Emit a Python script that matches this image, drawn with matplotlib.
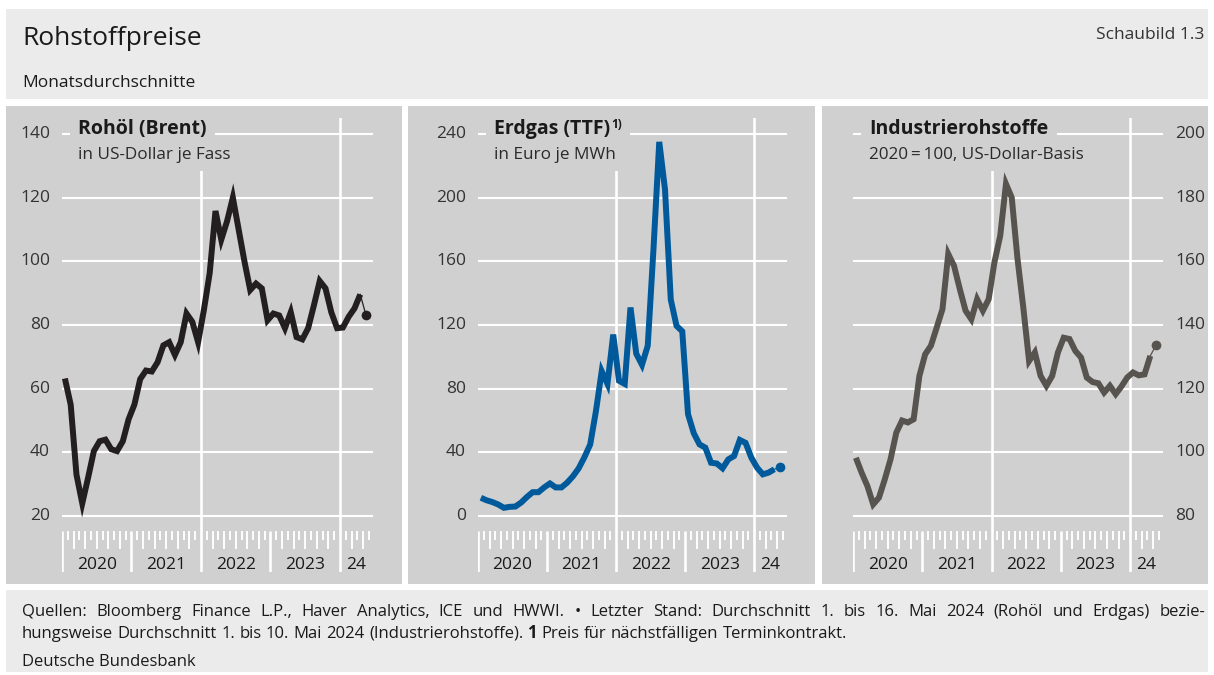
import matplotlib
matplotlib.use('Agg')
import matplotlib.pyplot as plt
from matplotlib.patches import Rectangle
import numpy as np

plt.rcParams['font.family'] = ['Open Sans', 'DejaVu Sans']

# ---------------- data (monthly averages, Jan 2020 .. Apr 2024; last = May 2024) ----
years = ['2020', '2021', '2022', '2023', '24']

brent = [63.2, 55.0, 33.0, 24.0, 32.0, 40.4, 43.5, 44.0, 41.0, 40.4, 43.5, 50.4,
         55.0, 63.0, 65.7, 65.4, 68.3, 73.6, 74.6, 70.6, 74.6, 83.6, 81.0, 74.6,
         84.7, 96.3, 115.8, 106.8, 112.6, 120.0, 110.0, 100.0, 91.0, 93.0, 91.5, 81.5,
         83.6, 83.0, 79.0, 84.0, 76.2, 75.5, 79.0, 86.2, 93.8, 91.5, 84.0, 79.0,
         79.2, 82.6, 85.2, 89.6]
brent_last = 83.0

gas = [11.5, 9.9, 8.8, 7.3, 5.2, 5.8, 6.0, 8.5, 12.0, 15.0, 15.0, 18.0,
       20.5, 18.0, 18.0, 21.0, 25.0, 30.0, 37.0, 45.0, 66.0, 91.0, 83.0, 114.0,
       85.0, 83.0, 131.0, 102.0, 95.0, 107.0, 168.0, 235.0, 205.0, 136.0, 119.5, 116.0,
       64.0, 52.0, 45.0, 43.0, 33.5, 33.0, 30.0, 35.6, 37.7, 47.8, 46.0, 36.7,
       30.4, 26.2, 27.3, 29.4]
gas_last = 30.8

industrial = [98.3, 93.6, 89.4, 83.7, 85.8, 91.5, 97.8, 106.2, 110.0, 109.4, 110.4, 124.0,
              130.8, 133.5, 139.2, 145.0, 162.3, 158.6, 151.3, 144.5, 141.8, 148.1, 144.5, 148.1,
              159.7, 168.0, 184.3, 180.0, 160.7, 145.5, 128.7, 131.4, 124.0, 120.9, 124.0, 131.4,
              136.0, 135.6, 131.9, 129.8, 123.5, 122.1, 121.7, 118.8, 120.9, 118.3, 120.7, 123.5,
              125.1, 124.2, 124.5, 130.3]
industrial_last = 133.7

brent_ticks = [20, 40, 60, 80, 100, 120, 140]
gas_ticks = [0, 40, 80, 120, 160, 200, 240]
ind_ticks = [80, 100, 120, 140, 160, 180, 200]

# ---------------- styling ----------------
W, H, DPI = 1214, 675, 100
LIGHT = '#ebebeb'
PANEL = '#d0d0d0'
TXT = '#1a1a1a'
TICKC = '#333333'

fig = plt.figure(figsize=(W / DPI, H / DPI), dpi=DPI)
fig.patch.set_facecolor('white')
renderer = fig.canvas.get_renderer()


def fy(py):
    return 1 - py / H


def rect(x0, y0, x1, y1, color):
    fig.add_artist(Rectangle((x0 / W, 1 - y1 / H), (x1 - x0) / W, (y1 - y0) / H,
                             transform=fig.transFigure, facecolor=color,
                             edgecolor='none', zorder=-5))


# backgrounds
rect(6, 9, 1208, 99, LIGHT)
rect(6, 590, 1208, 672, LIGHT)
rect(6, 106, 402, 584, PANEL)
rect(408, 106, 815, 584, PANEL)
rect(822, 106, 1208, 584, PANEL)

# header
fig.text(22 / W, fy(45), 'Rohstoffpreise', fontsize=19, fontweight='medium', color=TXT, va='baseline')
fig.text(22 / W, fy(87), 'Monatsdurchschnitte', fontsize=12.5, color=TXT, va='baseline')
fig.text(1204 / W, fy(39), 'Schaubild 1.3', fontsize=12.5, color=TICKC, va='baseline', ha='right')

XMAX = 53.7
TOP_PX, BOT_PX = 118, 532

panels = [
    dict(left=62, right=373, ylim=(15, 145), ticks=brent_ticks, side='left',
         data=brent, last=brent_last, color='#231f20',
         title='Rohöl (Brent)', sup=None, sub='in US-Dollar je Fass'),
    dict(left=478, right=787, ylim=(-10, 250), ticks=gas_ticks, side='left',
         data=gas, last=gas_last, color='#00599b',
         title='Erdgas (TTF)', sup='1)', sub='in Euro je MWh'),
    dict(left=853, right=1163, ylim=(75, 205), ticks=ind_ticks, side='right',
         data=industrial, last=industrial_last, color='#57534f',
         title='Industrierohstoffe', sup=None, sub='2020\u2009=\u2009100, US-Dollar-Basis'),
]


def cover(ax, bbs, padx, pady_top, pady_bot):
    x0 = min(b.x0 for b in bbs) - padx
    x1 = max(b.x1 for b in bbs) + padx
    y0 = min(b.y0 for b in bbs) - pady_bot
    y1 = max(b.y1 for b in bbs) + pady_top
    fw, fh = fig.bbox.width, fig.bbox.height
    ax.add_patch(Rectangle((x0 / fw, y0 / fh), (x1 - x0) / fw, (y1 - y0) / fh,
                           transform=fig.transFigure, facecolor=PANEL, edgecolor='none',
                           zorder=2.5, clip_on=False))


for p in panels:
    left, right = p['left'], p['right']
    ppm = (right - left) / XMAX
    ax = fig.add_axes([left / W, fy(BOT_PX), (right - left) / W, (BOT_PX - TOP_PX) / H])
    ax.set_xlim(0, XMAX)
    ax.set_ylim(*p['ylim'])
    ax.set_facecolor('none')
    ax.axis('off')
    for yv in p['ticks']:
        ax.axhline(yv, color='white', lw=1.5, zorder=1)
        if p['side'] == 'left':
            ax.text(-12 / ppm, yv, str(yv), ha='right', va='center', fontsize=12.5, color=TICKC)
        else:
            ax.text(XMAX + 12 / ppm, yv, str(yv), ha='left', va='center', fontsize=12.5, color=TICKC)
    for m in (24, 48):
        ax.axvline(m, color='white', lw=1.9, zorder=1)

    vals = np.array(p['data'])
    x = np.arange(len(vals)) + 0.5
    ax.plot(x, vals, color=p['color'], lw=4.3, zorder=5, solid_joinstyle='miter',
            solid_capstyle='butt')
    xl = len(vals) + 0.5
    ax.plot([x[-1], xl], [vals[-1], p['last']], color=p['color'], lw=0.9, zorder=5)
    ax.plot([xl], [p['last']], 'o', ms=7, color=p['color'], zorder=6, mec='none')

    # titles; grid hidden behind them by a panel-coloured patch
    tx = 0.053
    t = ax.text(tx, (BOT_PX - 134) / (BOT_PX - TOP_PX), p['title'], transform=ax.transAxes,
                fontsize=14, fontweight='bold', color=TXT, va='baseline', zorder=3)
    bbs = [t.get_window_extent(renderer)]
    if p['sup']:
        bb = bbs[0]
        axbb = ax.get_window_extent(renderer)
        sx = (bb.x1 + 0.3 - axbb.x0) / axbb.width
        s = ax.text(sx, (BOT_PX - 128) / (BOT_PX - TOP_PX), p['sup'], transform=ax.transAxes,
                    fontsize=8.5, fontweight='bold', color=TXT, va='baseline', zorder=3)
        bbs.append(s.get_window_extent(renderer))
    cover(ax, bbs, 8, 5, 4)
    st = ax.text(tx, (BOT_PX - 159) / (BOT_PX - TOP_PX), p['sub'], transform=ax.transAxes,
                 fontsize=12.3, color='#2a2a2a', va='baseline', zorder=3)
    cover(ax, [st.get_window_extent(renderer)], 8, 6, 8)

    # month tick axis
    tax = fig.add_axes([left / W, fy(572), (right - left) / W, 41 / H])
    tax.set_xlim(0, XMAX)
    tax.set_ylim(0, 41)
    tax.set_facecolor('none')
    tax.axis('off')
    for m in range(0, 54):
        if m % 12 == 0:
            tax.plot([m, m], [0, 41], color='white', lw=1.9, solid_capstyle='butt')
        elif m % 2 == 0:
            tax.plot([m, m], [23, 41], color='white', lw=1.4, solid_capstyle='butt')
        else:
            tax.plot([m, m], [32, 41], color='white', lw=1.4, solid_capstyle='butt')
    for i, lab in enumerate(years):
        xc = 6 + 12 * i if i < 4 else (48 + XMAX) / 2
        tax.text(xc, 7, lab, ha='center', va='center', fontsize=12.5, color=TXT)


# ---------------- footer ----------------
def word_width(word, weight, size):
    t = fig.text(0, 0, word, fontsize=size, fontweight=weight)
    w = t.get_window_extent(renderer).width
    t.remove()
    return w


FS = 12
space_w = word_width('a a', 'normal', FS) - word_width('aa', 'normal', FS)


def draw_words(words, x0, y, gap=None, target=None):
    widths = [word_width(w, wt, FS) for w, wt in words]
    if target is not None:
        gap = (target - sum(widths)) / (len(words) - 1)
    x = x0
    for (w, wt), wd in zip(words, widths):
        fig.text(x / W, fy(y), w, fontsize=FS, fontweight=wt, color=TXT, va='baseline')
        x += wd + gap


line1 = ('Quellen: Bloomberg Finance L.P., Haver Analytics, ICE und HWWI. \u2022 Letzter Stand: '
         'Durchschnitt 1. bis 16. Mai 2024 (Rohöl und Erdgas) bezie-')
draw_words([(w, 'normal') for w in line1.split(' ')], 22, 616, target=1205 - 22)

line2 = [(w, 'normal') for w in 'hungsweise Durchschnitt 1. bis 10. Mai 2024 (Industrierohstoffe).'.split(' ')]
line2 += [('1', 'bold')]
line2 += [(w, 'normal') for w in 'Preis für nächstfälligen Terminkontrakt.'.split(' ')]
draw_words(line2, 22, 638, gap=space_w)

fig.text(22 / W, fy(666), 'Deutsche Bundesbank', fontsize=FS, color=TXT, va='baseline')

fig.savefig('out.png', dpi=DPI, facecolor='white')
